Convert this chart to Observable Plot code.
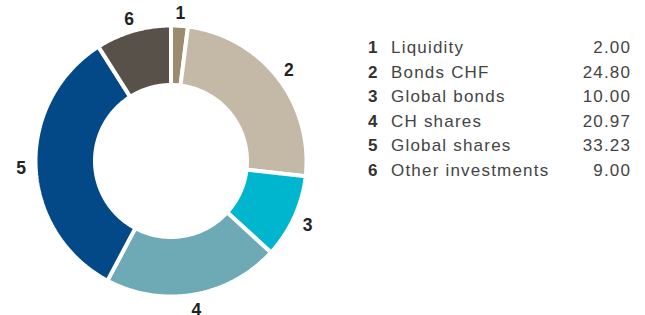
<!DOCTYPE html>
<html><head><meta charset="utf-8">
<script src="https://cdn.jsdelivr.net/npm/d3@7"></script>
<script src="https://cdn.jsdelivr.net/npm/@observablehq/plot@0.6"></script>
<style>
body{margin:0;background:#fff;}
#wrap{position:relative;width:645px;height:315px;overflow:hidden;font-family:"Liberation Sans",Arial,sans-serif;}
#chart{position:absolute;left:0;top:0;}
#legend{position:absolute;left:368px;top:36px;width:262px;}
.row{display:flex;height:24.5px;line-height:24.5px;font-size:17px;color:#444;letter-spacing:1.2px;}
.num{font-weight:bold;width:23px;color:#333;letter-spacing:0;}
.lab{flex:1;}
.val{text-align:right;margin-right:-1.2px;}
</style></head>
<body><div id="wrap"><div id="chart"></div><div id="legend"></div></div>
<script>
const ids = ["1","2","3","4","5","6"];
const categories = ["Liquidity","Bonds CHF","Global bonds","CH shares","Global shares","Other investments"];
const values = [2.00,24.80,10.00,20.97,33.23,9.00];
const colors = ["#9c8b6f","#c4b8a6","#00b6cf","#6ea9b6","#044987","#58514a"];

const data = ids.map((id,i)=>({id, category:categories[i], value:values[i]}));
const arcs = d3.pie().sort(null).value(d=>d.value)(data);

const W = 341, H = 315, CX = 170.5, CY = 160.5;
const rOuter = 135.5, rInner = 76, rLabel = 150;

const pts = [];
for (const a of arcs) {
  const a0 = a.startAngle, a1 = a.endAngle;
  const n = Math.max(2, Math.ceil((a1 - a0) / 0.01));
  for (let i = 0; i <= n; i++) {
    const t = a0 + (a1 - a0) * i / n;
    pts.push({id:a.data.id, x:rOuter*Math.sin(t), y:rOuter*Math.cos(t)});
  }
  for (let i = n; i >= 0; i--) {
    const t = a0 + (a1 - a0) * i / n;
    pts.push({id:a.data.id, x:rInner*Math.sin(t), y:rInner*Math.cos(t)});
  }
}
const labels = arcs.map(a=>{
  const m = (a.startAngle + a.endAngle)/2;
  return {id:a.data.id, x:rLabel*Math.sin(m), y:rLabel*Math.cos(m)};
});

const chart = Plot.plot({
  width:W, height:H, margin:0,
  x:{domain:[-CX, W-CX], range:[0,W], axis:null},
  y:{domain:[-(H-CY), CY], range:[H,0], axis:null},
  color:{domain:ids, range:colors},
  marks:[
    Plot.line(pts,{x:"x",y:"y",z:"id",fill:"id",stroke:"white",strokeWidth:4,strokeLinejoin:"miter",curve:"linear-closed"}),
    Plot.text(labels,{x:"x",y:"y",text:"id",dy:2,fontSize:17.5,fontWeight:"bold",fill:"#222",fontFamily:"Liberation Sans, Arial, sans-serif"})
  ]
});
document.getElementById("chart").appendChild(chart);

const leg = document.getElementById("legend");
data.forEach(d=>{
  const r = document.createElement("div"); r.className="row";
  r.innerHTML = `<span class="num">${d.id}</span><span class="lab">${d.category}</span><span class="val">${d.value.toFixed(2)}</span>`;
  leg.appendChild(r);
});
</script>
</body></html>
